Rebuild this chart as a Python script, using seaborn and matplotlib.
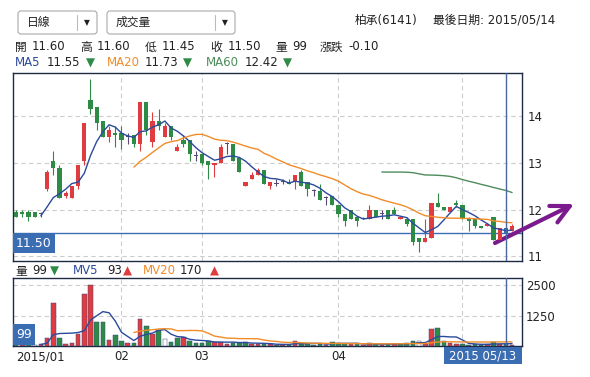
import numpy as np
import pandas as pd
import matplotlib
matplotlib.use('Agg')
import matplotlib.pyplot as plt
import matplotlib.transforms as mtransforms
from matplotlib.patches import Rectangle, FancyBboxPatch
import seaborn as sns

# daily OHLC (2015/01 .. 2015/05/14)
opens = [11.95, 11.95, 11.95, 11.95, 11.90, 12.45, 13.05, 12.90, 12.30, 12.25,
         12.50, 13.05, 14.35, 14.20, 13.90, 13.55, 13.65, 13.65, 13.55, 13.60,
         13.40, 14.30, 13.45, 13.90, 13.55, 13.80, 13.25, 13.50, 13.50, 13.15,
         13.20, 13.05, 12.95, 13.00, 13.40, 13.40, 13.10, 12.50, 12.65, 12.75,
         12.85, 12.50, 12.55, 12.60, 12.60, 12.60, 12.80, 12.60, 12.40, 12.40,
         12.25, 12.30, 12.10, 11.90, 12.00, 11.85, 11.80, 11.80, 12.00, 11.90,
         12.00, 12.00, 11.80, 11.80, 11.80, 11.40, 11.30, 11.40, 12.15, 12.05,
         11.95, 12.15, 12.10, 11.80, 11.80, 11.65, 11.65, 11.85, 11.35, 11.60, 11.55]
highs = [12.00, 12.00, 12.00, 11.95, 11.95, 12.85, 13.25, 12.95, 12.40, 12.50,
         12.95, 13.85, 14.80, 14.20, 13.90, 13.80, 13.80, 13.80, 13.65, 13.60,
         14.30, 14.30, 14.10, 14.15, 13.85, 13.80, 13.40, 13.60, 13.50, 13.25,
         13.20, 13.05, 13.00, 13.40, 13.45, 13.40, 13.10, 12.60, 12.80, 12.90,
         12.85, 12.60, 12.65, 12.65, 12.65, 12.75, 12.85, 12.60, 12.45, 12.55,
         12.30, 12.30, 12.10, 11.90, 12.00, 11.85, 11.85, 12.10, 12.00, 12.00,
         12.00, 12.05, 11.85, 11.85, 11.80, 11.40, 11.80, 12.15, 12.35, 12.05,
         12.05, 12.20, 12.10, 11.85, 11.80, 11.65, 11.70, 11.85, 11.60, 11.60, 11.70]
lows = [11.85, 11.85, 11.75, 11.85, 11.85, 12.40, 12.75, 12.25, 12.25, 12.25,
        12.45, 12.95, 14.05, 13.70, 13.55, 13.45, 13.35, 13.30, 13.40, 13.35,
        13.25, 13.60, 13.35, 13.70, 13.55, 13.50, 13.25, 13.35, 13.05, 13.05,
        12.95, 12.65, 12.70, 13.00, 13.20, 13.05, 12.80, 12.50, 12.65, 12.75,
        12.55, 12.45, 12.50, 12.55, 12.55, 12.45, 12.50, 12.30, 12.30, 12.20,
        12.10, 12.10, 11.85, 11.65, 11.80, 11.65, 11.80, 11.80, 11.85, 11.80,
        11.80, 11.90, 11.80, 11.65, 11.25, 11.10, 11.30, 11.40, 12.05, 12.00,
        11.95, 12.05, 11.80, 11.55, 11.60, 11.60, 11.65, 11.35, 11.35, 11.45, 11.55]
closes = [11.85, 11.90, 11.85, 11.85, 11.90, 12.80, 12.90, 12.25, 12.35, 12.50,
          12.95, 13.85, 14.15, 13.85, 13.55, 13.70, 13.60, 13.50, 13.55, 13.40,
          14.30, 13.70, 13.90, 13.80, 13.80, 13.55, 13.35, 13.40, 13.20, 13.15,
          13.00, 12.95, 13.00, 13.35, 13.40, 13.05, 12.80, 12.60, 12.75, 12.85,
          12.55, 12.60, 12.55, 12.60, 12.55, 12.75, 12.50, 12.45, 12.40, 12.20,
          12.25, 12.10, 11.90, 11.75, 11.80, 11.75, 11.80, 12.00, 11.85, 11.90,
          11.80, 11.90, 11.85, 11.70, 11.30, 11.30, 11.40, 12.15, 12.05, 12.00,
          12.05, 12.10, 11.80, 11.75, 11.65, 11.60, 11.70, 11.35, 11.60, 11.50, 11.65]
volumes = [60, 50, 70, 40, 80, 350, 1790, 310, 80, 120,
           480, 2160, 2500, 970, 970, 240, 440, 200, 110, 130,
           1130, 810, 500, 660, 280, 180, 320, 390, 210, 110,
           110, 220, 180, 180, 100, 120, 130, 180, 80, 70,
           90, 70, 60, 50, 60, 220, 90, 100, 60, 80,
           60, 180, 140, 90, 80, 70, 50, 110, 90, 60,
           70, 80, 90, 110, 200, 200, 100, 700, 760, 200,
           110, 90, 80, 60, 70, 50, 65, 160, 90, 99, 60]

month_pos = [0, 17, 30, 52]
month_labels = ['2015/01', '02', '03', '04']
month_grid = [17, 30, 52, 72]
cursor_idx = 79
cursor_label = '2015 05/13'
price_ticks = [11, 12, 13, 14]
vol_ticks = [1250, 2500]

RED = '#e03c3f'
GREEN = '#2e8b45'
DOJI = '#5a4a78'
BLUE = '#3b6db3'
C_MA5 = '#2b4a9b'
C_MA20 = '#f28c28'
C_MA60 = '#4e8c5c'
FRAME = '#1e2a44'
GRID = '#cccccc'

sns.set_theme(style='white')
plt.rcParams['font.family'] = ['DejaVu Sans', 'Noto Sans CJK TC']

df = pd.DataFrame({'o': opens, 'h': highs, 'l': lows, 'c': closes, 'v': volumes})
df['idx'] = np.arange(len(df))
df['ma5'] = df['c'].rolling(5).mean()
df['ma20'] = df['c'].rolling(20).mean()
df['ma60'] = df['c'].rolling(60).mean()
df['mv5'] = df['v'].rolling(5).mean()
df['mv20'] = df['v'].rolling(20).mean()

W, H = 590, 377
fig = plt.figure(figsize=(W / 100, H / 100), dpi=100)
fig.patch.set_facecolor('white')
# pixel coords measured from top-left
T = mtransforms.Affine2D().scale(1, -1).translate(0, H).scale(1 / 100) + fig.dpi_scale_trans


def box(x0, y0, x1, y1):
    return [x0 / W, 1 - y1 / H, (x1 - x0) / W, (y1 - y0) / H]


ax = fig.add_axes(box(13, 72.5, 522, 261))
axv = fig.add_axes(box(13, 278, 522, 346))

# ---- price panel ----
up = df['c'] > df['o']
dn = df['c'] < df['o']
cols = np.where(up, RED, np.where(dn, GREEN, DOJI)).astype(object)
cols[cursor_idx] = BLUE
ax.vlines(df['idx'], df['l'], df['h'], colors=list(cols), lw=0.8, zorder=3)
body_bot = np.minimum(df['o'], df['c'])
body_h = np.maximum((df['c'] - df['o']).abs(), 0.02)
ax.bar(df['idx'], body_h, bottom=body_bot, width=0.7, color=list(cols), linewidth=0, zorder=4)

sns.lineplot(data=df, x='idx', y='ma5', ax=ax, color=C_MA5, lw=1, zorder=5)
sns.lineplot(data=df, x='idx', y='ma20', ax=ax, color=C_MA20, lw=1, zorder=5)
sns.lineplot(data=df, x='idx', y='ma60', ax=ax, color=C_MA60, lw=1, zorder=5)

for t in price_ticks:
    ax.axhline(t, color=GRID, lw=0.8, dashes=(4, 3), zorder=1)
for m in month_grid:
    ax.axvline(m, color=GRID, lw=0.8, dashes=(4, 3), zorder=1)
    axv.axvline(m, color=GRID, lw=0.8, dashes=(4, 3), zorder=1)
ax.axhline(df['c'][cursor_idx], color=BLUE, lw=1, zorder=2)
ax.axvline(cursor_idx, color='#4a66a0', lw=1, zorder=6)

ax.set_xlim(-0.5, 81.6)
ax.set_ylim(10.9, 14.94)
ax.set_xticks([])
ax.yaxis.tick_right()
ax.set_yticks(price_ticks)
ax.set_yticklabels([str(t) for t in price_ticks])
ax.tick_params(axis='y', length=0, pad=4, labelsize=8.5, labelcolor='#222222')
ax.set_xlabel('')
ax.set_ylabel('')

# ---- volume panel ----
prev = df['c'].shift(1).fillna(df['o'])
chg = df['c'] - prev
vface = np.where(chg > 0, RED, np.where(chg < 0, GREEN, 'white')).astype(object)
axv.bar(df['idx'], df['v'], width=0.72, color=list(vface), edgecolor='#3b4a80', linewidth=0.35, zorder=3)
sns.lineplot(data=df, x='idx', y='mv5', ax=axv, color=C_MA5, lw=1, zorder=5)
sns.lineplot(data=df, x='idx', y='mv20', ax=axv, color=C_MA20, lw=1, zorder=5)
for t in vol_ticks:
    axv.axhline(t, color=GRID, lw=0.8, dashes=(4, 3), zorder=1)
axv.axvline(cursor_idx, color='#4a66a0', lw=1, zorder=6)
axv.set_xlim(-0.5, 81.6)
axv.set_ylim(0, 2800)
axv.yaxis.tick_right()
axv.set_yticks(vol_ticks)
axv.set_yticklabels([str(t) for t in vol_ticks])
axv.set_xticks(month_pos)
axv.set_xticklabels(month_labels)
axv.get_xticklabels()[0].set_horizontalalignment('left')
axv.tick_params(axis='both', length=0, labelsize=8.5, labelcolor='#222222')
axv.tick_params(axis='y', pad=3)
axv.tick_params(axis='x', pad=3)
axv.set_xlabel('')
axv.set_ylabel('')

for a in (ax, axv):
    for s in a.spines.values():
        s.set_color(FRAME)
        s.set_linewidth(1)
        s.set_visible(True)

# ---- header widgets ----
for x0, x1, sep, label in [(18, 97, 77, '日線'), (107, 235, 215, '成交量')]:
    fig.add_artist(FancyBboxPatch((x0, 11), x1 - x0, 23, boxstyle='round,pad=0,rounding_size=3',
                                  transform=T, facecolor='white', edgecolor='#aaaaaa', lw=0.8))
    fig.add_artist(plt.Line2D([sep, sep], [15, 30], transform=T, color='#bbbbbb', lw=0.8))
    fig.text(x0 + 9, 22.5, label, transform=T, fontsize=8.5, va='center', ha='left', color='#222222')
    fig.text(sep + 10, 23, '▼', transform=T, fontsize=5.5, va='center', ha='center', color='#222222')

fig.text(355, 20, '柏承(6141)', transform=T, fontsize=8.5, va='center', ha='left', color='#222222')
fig.text(433, 20, '最後日期: 2015/05/14', transform=T, fontsize=8.5, va='center', ha='left', color='#222222')

info = [(15, '開'), (32, '11.60'), (80, '高'), (97, '11.60'), (145, '低'), (162, '11.45'),
        (210, '收'), (228, '11.50'), (275, '量'), (292, '99'), (320, '漲跌'), (348, '-0.10')]
for x, s in info:
    fig.text(x, 47, s, transform=T, fontsize=8.5, va='center', ha='left', color='#222222')

ma_txt = [(15, 'MA5', C_MA5), (47, '11.55', '#222222'), (86, '▼', GREEN),
          (107, 'MA20', C_MA20), (145, '11.73', '#222222'), (183, '▼', GREEN),
          (206, 'MA60', C_MA60), (245, '12.42', '#222222'), (283, '▼', GREEN)]
for x, s, c in ma_txt:
    fig.text(x, 63, s, transform=T, fontsize=8.5, va='center', ha='left', color=c)

mv_txt = [(15, '量', '#222222'), (32, '99', '#222222'), (50, '▼', GREEN),
          (73, 'MV5', C_MA5), (107, '93', '#222222'), (123, '▲', RED),
          (143, 'MV20', C_MA20), (180, '170', '#222222'), (210, '▲', RED)]
for x, s, c in mv_txt:
    fig.text(x, 271, s, transform=T, fontsize=8.5, va='center', ha='left', color=c)

# value tags
fig.add_artist(Rectangle((13, 233), 42, 20, transform=T, facecolor=BLUE, edgecolor='none'))
fig.text(34, 243.5, '%.2f' % df['c'][cursor_idx], transform=T, fontsize=9, va='center', ha='center', color='white')
fig.add_artist(Rectangle((13, 324), 22, 21, transform=T, facecolor=BLUE, edgecolor='none'))
fig.text(24, 335, str(df['v'][cursor_idx]), transform=T, fontsize=9, va='center', ha='center', color='white')
fig.add_artist(Rectangle((444, 347), 78, 17, transform=T, facecolor=BLUE, edgecolor='none'))
fig.text(483, 356, cursor_label, transform=T, fontsize=8.5, va='center', ha='center', color='white')

# purple arrow
ax.annotate('', xy=(574, 204), xytext=(495, 243), xycoords=T, textcoords=T,
            arrowprops=dict(arrowstyle='->,head_length=1.1,head_width=0.55', lw=3, color='#7a1a8c',
                            shrinkA=0, shrinkB=0),
            annotation_clip=False)

fig.savefig('out.png', dpi=100)
